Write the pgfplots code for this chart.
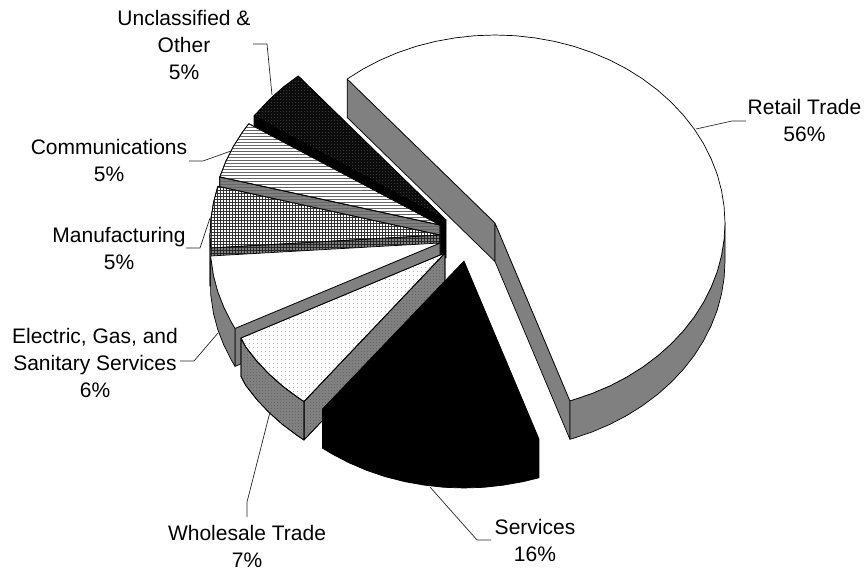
\documentclass[border=0pt]{standalone}
\usepackage{fontspec}
\setmainfont{Liberation Sans}
\usepackage{pgfplots}
\pgfplotsset{compat=1.18}
\usetikzlibrary{patterns}
\definecolor{wall}{HTML}{808080}
\definecolor{dk}{HTML}{0C0C0C}
\pgfdeclarepatternformonly{hl}{\pgfqpoint{-1pt}{-1pt}}{\pgfqpoint{4pt}{4pt}}{\pgfqpoint{3pt}{3pt}}{%
  \pgfsetlinewidth{0.8pt}\pgfpathmoveto{\pgfqpoint{-1pt}{1pt}}\pgfpathlineto{\pgfqpoint{4pt}{1pt}}\pgfusepath{stroke}}
\pgfdeclarepatternformonly{gridp}{\pgfqpoint{-1pt}{-1pt}}{\pgfqpoint{4pt}{4pt}}{\pgfqpoint{3pt}{3pt}}{%
  \pgfsetlinewidth{0.9pt}\pgfpathmoveto{\pgfqpoint{-1pt}{1pt}}\pgfpathlineto{\pgfqpoint{4pt}{1pt}}\pgfpathmoveto{\pgfqpoint{1pt}{-1pt}}\pgfpathlineto{\pgfqpoint{1pt}{4pt}}\pgfusepath{stroke}}
\pgfdeclarepatternformonly{dotp}{\pgfqpoint{-1pt}{-1pt}}{\pgfqpoint{5pt}{5pt}}{\pgfqpoint{4pt}{4pt}}{%
  \pgfpathrectangle{\pgfqpoint{1pt}{1pt}}{\pgfqpoint{1.1pt}{1.1pt}}\pgfusepath{fill}}
\pgfdeclarepatternformonly{dotb}{\pgfqpoint{-1pt}{-1pt}}{\pgfqpoint{4pt}{4pt}}{\pgfqpoint{3pt}{3pt}}{%
  \pgfpathrectangle{\pgfqpoint{0.7pt}{0.7pt}}{\pgfqpoint{1.2pt}{1.2pt}}\pgfusepath{fill}}
\newcommand{\lab}[3]{\node[anchor=base,inner sep=0pt,overlay,font=\fontsize{21}{27}\selectfont] at (axis cs:#1,#2) {\begin{tabular}[t]{@{}c@{}}#3\end{tabular}};}
\begin{document}
\begin{tikzpicture}
\begin{axis}[hide axis, scale only axis, width=864pt, height=569pt,
  xmin=0, xmax=864, ymin=0, ymax=569, y dir=reverse, clip=false,
  every axis plot/.append style={line join=round, line width=0.7pt}]
\addplot[draw=none] coordinates {(0,0)(864,569)};
% Retail Trade 56%
\addplot[draw=black,fill=wall] coordinates {(347.2,79)(495,223)(495,261.5)(347.2,117.5)} --cycle;
\addplot[draw=black,fill=wall] coordinates {(495,223)(569.9,400.8)(569.9,439.3)(495,261.5)} --cycle;
\addplot[draw=black,fill=wall] coordinates {(725,223)(724.1,239.4)(721.5,255.6)(717.2,271.7)(711.1,287.3)(703.4,302.5)(694.2,317)(683.4,330.8)(671.2,343.8)(657.6,355.9)(642.8,367)(626.9,377)(610,385.8)(592.2,393.4)(573.7,399.7)(569.9,400.8)(569.9,439.3)(573.7,438.2)(592.2,431.9)(610,424.3)(626.9,415.5)(642.8,405.5)(657.6,394.4)(671.2,382.3)(683.4,369.3)(694.2,355.5)(703.4,341)(711.1,325.8)(717.2,310.2)(721.5,294.1)(724.1,277.9)(725,261.5)} --cycle;
\addplot[draw=black,fill=white] coordinates {(495,223)(347.2,79)(363.1,69)(380,60.2)(397.8,52.6)(416.3,46.3)(435.5,41.4)(455,37.9)(474.9,35.7)(495,35)(515.1,35.7)(535,37.9)(554.5,41.4)(573.7,46.3)(592.2,52.6)(610,60.2)(626.9,69)(642.8,79)(657.6,90.1)(671.2,102.2)(683.4,115.2)(694.2,129)(703.4,143.5)(711.1,158.7)(717.2,174.3)(721.5,190.4)(724.1,206.6)(725,223)(724.1,239.4)(721.5,255.6)(717.2,271.7)(711.1,287.3)(703.4,302.5)(694.2,317)(683.4,330.8)(671.2,343.8)(657.6,355.9)(642.8,367)(626.9,377)(610,385.8)(592.2,393.4)(573.7,399.7)(569.9,400.8)} --cycle;
% Unclassified & Other 5%
\addplot[draw=black,fill=black] coordinates {(254,116)(446,220)(446,258)(254,154)} --cycle;
\addplot[draw=black,fill=dk,postaction={pattern=dotb,pattern color=gray!45!black}] coordinates {(446,220)(298.2,76)(283.4,87.1)(269.8,99.2)(257.6,112.2)(254,116)} --cycle;
% Communications 5%
\addplot[draw=black,fill=wall,postaction={pattern=hl,pattern color=black!60}] coordinates {(219.8,176.9)(440,225)(440,263)(219.8,214.9)} --cycle;
\addplot[draw=black,fill=white,postaction={pattern=hl,pattern color=black!60}] coordinates {(440,225)(248.8,123.7)(242.5,132)(233.4,146.4)(225.8,161.4)(219.8,176.9)} --cycle;
% Manufacturing 5%
\addplot[draw=black,fill=wall,postaction={pattern=gridp,pattern color=black!85}] coordinates {(210,235)(210,286)(440,273)(440,235)} --cycle;
\addplot[draw=black,fill=white,postaction={pattern=gridp,pattern color=black!80}] coordinates {(440,235)(217.8,186.3)(213.5,202.4)(210.9,218.6)(210,235)(210.6,248)} --cycle;
% Electric, Gas, and Sanitary Services 6%
\addplot[draw=black,fill=wall] coordinates {(440,243)(235,328.4)(235,366.4)(440,281)} --cycle;
\addplot[draw=black,fill=wall] coordinates {(210.6,256)(213.5,275.6)(217.8,291.7)(223.9,307.3)(231.6,322.5)(235,328.4)(235,366.4)(231.6,360.5)(223.9,345.3)(217.8,329.7)(213.5,313.6)(210.6,294)} --cycle;
\addplot[draw=black,fill=white] coordinates {(440,243)(210.6,256)(213.5,275.6)(217.8,291.7)(223.9,307.3)(231.6,322.5)(235,328.4)} --cycle;
% Wholesale Trade 7%
\addplot[draw=black,fill=wall,postaction={pattern=dotb,pattern color=black!60}] coordinates {(445,253)(304,401.5)(304,440)(445,291.5)} --cycle;
\addplot[draw=black,fill=wall,postaction={pattern=dotb,pattern color=black!60}] coordinates {(241,338)(245.8,347)(256.6,360.8)(268.8,373.8)(282.4,385.9)(297.2,397)(304,401.5)(304,440)(297.2,435.5)(282.4,424.4)(268.8,412.3)(256.6,399.3)(245.8,385.5)(241,376.5)} --cycle;
\addplot[draw=black,fill=white,postaction={pattern=dotp,pattern color=black!28}] coordinates {(445,253)(241,338)(245.8,347)(256.6,360.8)(268.8,373.8)(282.4,385.9)(297.2,397)(304,401.5)} --cycle;
% Services 16%
\addplot[draw=black,fill=black] coordinates {(464,261)(538.9,438.8)(538.9,477.8)(523.5,481.6)(503.9,485.1)(484,487.3)(464,488)(444,487.3)(424,485.1)(404.5,481.6)(385.3,476.7)(366.8,470.4)(349,462.8)(332.1,454)(322.4,448.1)(322.4,409.1)} --cycle;
% leader lines
\addplot[draw=black!85,line width=0.7pt] coordinates {(696,129)(732,121)(746,121)};
\addplot[draw=black!85,line width=0.7pt] coordinates {(253,44)(267,44)(272,95)};
\addplot[draw=black!85,line width=0.7pt] coordinates {(189,161)(203,161)(231,151)};
\addplot[draw=black!85,line width=0.7pt] coordinates {(186,248)(200,248)(210,218)};
\addplot[draw=black!85,line width=0.7pt] coordinates {(180,361)(194,361)(218,333)};
\addplot[draw=black!85,line width=0.7pt] coordinates {(247,517)(247,502)(270,412)};
\addplot[draw=black!85,line width=0.7pt] coordinates {(430,487)(477,540)(491,540)};
% labels
\lab{804.5}{115}{Retail Trade\\56\%}
\lab{184}{26}{Unclassified \&\\Other\\5\%}
\lab{109}{155}{Communications\\5\%}
\lab{119}{243}{Manufacturing\\5\%}
\lab{95}{343}{Electric, Gas, and\\Sanitary Services\\6\%}
\lab{247}{540}{Wholesale Trade\\7\%}
\lab{535}{534}{Services\\16\%}
\end{axis}
\end{tikzpicture}
\end{document}
